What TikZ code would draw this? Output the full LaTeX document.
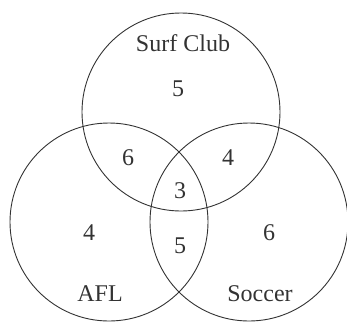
\documentclass[tikz,border=0pt]{standalone}
\usepackage{fontspec}
\setmainfont{Liberation Serif}
\definecolor{ink}{HTML}{333333}
\begin{document}
\begin{tikzpicture}[x=1pt,y=-1pt,
  ring/.style={draw=ink,line width=0.9pt},
  lbl/.style={text=ink,font=\fontsize{24}{27}\selectfont,inner sep=0pt,anchor=base}]
\useasboundingbox (0,0) rectangle (347,322);
\draw[ring] (181,112) circle (99);
\draw[ring] (109,222) circle (99);
\draw[ring] (249,222) circle (99);
\node[lbl] (surf) at (183,51) {Surf Club};
\node[lbl] (s) at (178,96) {5};
\node[lbl] (sa) at (128,165) {6};
\node[lbl] (ss) at (228,165) {4};
\node[lbl] (all) at (180,198) {3};
\node[lbl] (a) at (89,240) {4};
\node[lbl] (as) at (180,253) {5};
\node[lbl] (so) at (269,240) {6};
\node[lbl] (afl) at (100,301) {AFL};
\node[lbl] (soc) at (260,301) {Soccer};
\end{tikzpicture}
\end{document}
